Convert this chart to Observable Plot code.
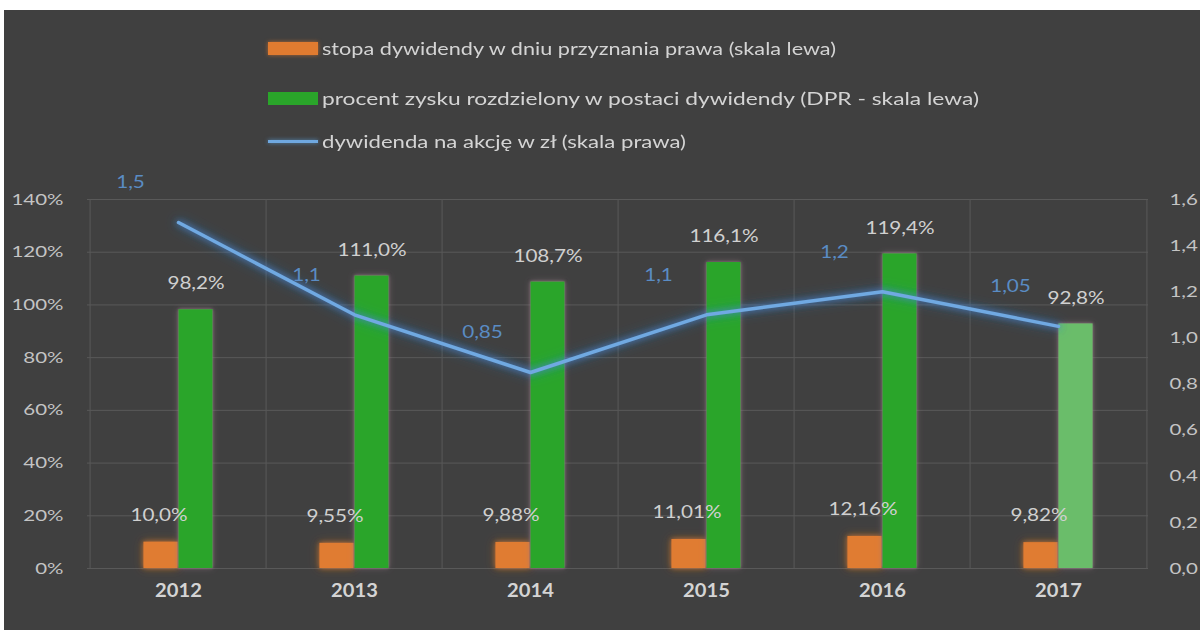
<!DOCTYPE html>
<html><head><meta charset="utf-8">
<script src="https://cdn.jsdelivr.net/npm/d3@7"></script>
<script src="https://cdn.jsdelivr.net/npm/@observablehq/plot@0.6"></script>
<style>
html,body{margin:0;padding:0;background:#fff;width:1200px;height:630px;overflow:hidden;}
#panel{position:absolute;left:4px;top:10px;width:1196px;height:620px;background:#404040;font-family:Lato,sans-serif;overflow:hidden;}
#legend{position:absolute;left:0;top:0;width:1196px;height:160px;z-index:2;}
.item{position:absolute;left:264px;height:26px;display:flex;align-items:center;color:#d4d4d4;font-size:18px;white-space:nowrap;}
.item span{display:inline-block;transform-origin:0 50%;}
.sw{width:50px;height:13px;margin-right:4px;}
.ln{width:50px;height:3px;margin-right:4px;background:#6fa8e0;box-shadow:0 0 4px rgba(91,155,213,0.8);}
#chart{position:absolute;left:0;top:130px;z-index:1;}
#chart svg{overflow:visible;}
</style>
</head><body>
<div id="panel">
  <div id="legend">
    <div class="item" style="top:25px"><div class="sw" style="background:#e07b30;box-shadow:0 0 4px rgba(224,123,48,0.7)"></div><span id="l1"></span></div>
    <div class="item" style="top:75px"><div class="sw" style="background:#2aa52a"></div><span id="l2"></span></div>
    <div class="item" style="top:118px"><div class="ln"></div><span id="l3"></span></div>
  </div>
  <div id="chart"></div>
</div>
<script>
const years = ["2012", "2013", "2014", "2015", "2016", "2017"];
const dividendYield = [0.100, 0.0955, 0.0988, 0.1101, 0.1216, 0.0982];
const payoutRatio = [0.982, 1.110, 1.087, 1.161, 1.194, 0.928];
const dividendPerShare = [1.5, 1.1, 0.85, 1.1, 1.2, 1.05];
const yieldLabels = ["10,0%", "9,55%", "9,88%", "11,01%", "12,16%", "9,82%"];
const payoutLabels = ["98,2%", "111,0%", "108,7%", "116,1%", "119,4%", "92,8%"];
const dpsLabels = ["1,5", "1,1", "0,85", "1,1", "1,2", "1,05"];
const leftTicks = [0, 0.2, 0.4, 0.6, 0.8, 1.0, 1.2, 1.4];
const leftTickLabels = ["0%", "20%", "40%", "60%", "80%", "100%", "120%", "140%"];
const rightTicks = [0, 0.2, 0.4, 0.6, 0.8, 1.0, 1.2, 1.4, 1.6];
const rightTickLabels = ["0,0", "0,2", "0,4", "0,6", "0,8", "1,0", "1,2", "1,4", "1,6"];
const seriesNames = [
  "stopa dywidendy w dniu przyznania prawa (skala lewa)",
  "procent zysku rozdzielony w postaci dywidendy (DPR - skala lewa)",
  "dywidenda na akcję w zł (skala prawa)"
];
// rendered widths of the legend entries in the reference (its lettering is stretched)
const legendWidths = [514, 657, 364];
seriesNames.forEach((name, i) => {
  const el = document.getElementById("l" + (i + 1));
  el.textContent = name;
  const s = legendWidths[i] / el.getBoundingClientRect().width;
  el.style.transform = `scaleX(${s})`;
});

const leftMax = 1.4, rightMax = 1.6;
const toLeft = v => v / rightMax * leftMax;

const rows = years.map((y, i) => ({
  year: y, yld: dividendYield[i], dpr: payoutRatio[i], dps: dividendPerShare[i],
  yl: yieldLabels[i], pl: payoutLabels[i], dl: dpsLabels[i], i
}));

const W = 1196, H = 490, mL = 83, mR = 52, mT = 59, mB = 62;
const bw = (W - mL - mR) / years.length;
const barW = 35;

const grid = "#595959";
const chart = Plot.plot({
  width: W, height: H,
  marginLeft: mL, marginRight: mR, marginTop: mT, marginBottom: mB,
  style: {background: "transparent", color: "#c4c4c4", fontFamily: "Lato, sans-serif", fontSize: "16px"},
  x: {type: "band", domain: years, padding: 0, axis: null, label: null},
  y: {domain: [0, leftMax], axis: null, label: null},
  marks: [
    Plot.ruleY(leftTicks, {y: d => d, stroke: grid, strokeWidth: 1}),
    Plot.ruleX(years, {x: d => d, dx: -bw / 2, stroke: grid, strokeWidth: 1, y1: 0, y2: leftMax}),
    Plot.ruleX(years.slice(-1), {x: d => d, dx: bw / 2, stroke: grid, strokeWidth: 1, y1: 0, y2: leftMax}),
    Plot.axisY(leftTicks, {anchor: "left", label: null, tickSize: 0, tickPadding: 24, fontSize: 16, fill: "#c4c4c4",
      tickFormat: d => leftTickLabels[leftTicks.indexOf(d)]}),
    Plot.axisY(rightTicks.map(toLeft), {anchor: "right", label: null, tickSize: 0, tickPadding: 21, fontSize: 16, fill: "#c4c4c4",
      tickFormat: (d, i) => rightTickLabels[i]}),
    Plot.axisX(years, {anchor: "bottom", label: null, tickSize: 0, tickPadding: 16, fontSize: 18, fontWeight: "bold", fill: "#d4d4d4"}),
    Plot.barY(rows, {x: "year", y: "yld", fill: "#e07b30",
      insetLeft: bw / 2 - barW, insetRight: bw / 2}),
    Plot.barY(rows, {x: "year", y: "dpr",
      fill: d => d.i === years.length - 1 ? "#6bbd6b" : "#2aa52a",
      insetLeft: bw / 2, insetRight: bw / 2 - barW}),
    Plot.text(rows, {x: "year", y: "yld", text: "yl", dx: -barW / 2 - 2, dy: -27, fill: "#d0d0d0", fontSize: 18}),
    Plot.text(rows, {x: "year", y: "dpr", text: "pl", dx: barW / 2, dy: -26, fill: "#d0d0d0", fontSize: 18}),
    Plot.line(rows, {x: "year", y: d => toLeft(d.dps), stroke: "#70a9e2", strokeWidth: 3.5}),
    Plot.text(rows, {x: "year", y: d => toLeft(d.dps), text: "dl", dx: -48, dy: -40, fill: "#5a8cc4", fontSize: 18})
  ]
});
document.getElementById("chart").appendChild(chart);

const svg = d3.select(chart);
// stretch text horizontally around its own anchor point
function stretch(sel, s) {
  sel.each(function () {
    const b = this.getBBox();
    const anchor = getComputedStyle(this).textAnchor;
    const ax = anchor === "end" ? b.x + b.width : anchor === "middle" ? b.x + b.width / 2 : b.x;
    const tr = this.getAttribute("transform") || "";
    this.setAttribute("transform", `${tr} translate(${ax},0) scale(${s},1) translate(${-ax},0)`);
  });
}
stretch(svg.selectAll('g[aria-label="y-axis tick label"] text'), 1.28);
stretch(svg.selectAll('g[aria-label="x-axis tick label"] text'), 1.12);
stretch(svg.selectAll('g[aria-label="text"] text'), 1.15);

// glow effects
const defs = svg.insert("defs", ":first-child");
function glow(id, color, sd, op) {
  const f = defs.append("filter").attr("id", id).attr("x", "-50%").attr("y", "-50%").attr("width", "200%").attr("height", "200%");
  f.append("feDropShadow").attr("dx", 0).attr("dy", 0).attr("stdDeviation", sd).attr("flood-color", color).attr("flood-opacity", op);
  f.append("feDropShadow").attr("dx", 0).attr("dy", 0).attr("stdDeviation", sd * 2).attr("flood-color", color).attr("flood-opacity", op * 0.5);
}
glow("gl-line", "#3f86d8", 3, 0.9);
glow("gl-o", "#e07b30", 2.5, 0.7);
glow("gl-g", "#9a7a8a", 1.5, 0.8);
const bars = svg.selectAll('g[aria-label="bar"]').nodes();
d3.select(bars[0]).attr("filter", "url(#gl-o)");
d3.select(bars[1]).attr("filter", "url(#gl-g)");
svg.selectAll('g[aria-label="line"]').attr("filter", "url(#gl-line)");
</script>
</body></html>
